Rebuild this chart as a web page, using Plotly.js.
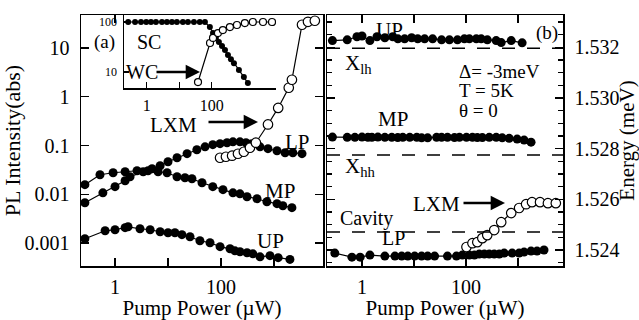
<!DOCTYPE html>
<html><head><meta charset="utf-8">
<script src="https://cdn.plot.ly/plotly-3.0.1.min.js"></script>
<style>html,body{margin:0;padding:0;background:#fff}#chart{width:639px;height:320px}</style>
</head><body><div id="chart"></div>
<script>
// ---- panel (a): PL intensity vs pump power ----
const lpPowerA = [0.27,0.59,1.0,1.55,1.92,3.4,5.0,7.1,10,14.8,22.9,35,50,70,96,130,168,228,296,383,545,770,1140,1620,2270,3380];
const lpIntA   = [0.0067,0.0107,0.0143,0.0189,0.0229,0.029,0.0333,0.0384,0.0464,0.056,0.068,0.082,0.094,0.104,0.109,0.114,0.119,0.119,0.114,0.109,0.094,0.086,0.078,0.071,0.071,0.068];
const mpPowerA = [0.27,0.52,0.92,1.55,2.6,4.2,6.5,9.6,14.8,20.9,28.3,43.8,70,109,168,228,310,478,735,1140,1470,2180];
const mpIntA   = [0.0157,0.0251,0.0276,0.029,0.0303,0.0303,0.029,0.0276,0.0229,0.0218,0.0208,0.0172,0.0143,0.0124,0.0107,0.0102,0.0089,0.0081,0.0070,0.0064,0.0058,0.0053];
const upPowerA = [0.27,0.65,1.0,1.55,1.76,2.96,4.6,7.1,10,13.5,18.3,26,40,62,96,148,183,228,310,400,545,840,1200,2000];
const upIntA   = [0.00122,0.00178,0.00187,0.00206,0.00215,0.00196,0.00187,0.0017,0.00162,0.00162,0.00148,0.00134,0.00111,0.00101,0.00084,0.00076,0.00069,0.00066,0.00063,0.0006,0.00052,0.00055,0.0005,0.00046];
const lxmPowerA = [96,124,162,209,270,352,455,770,1200,1900,2180,3380,4380,5900];
const lxmIntA   = [0.056,0.0588,0.0617,0.0677,0.0744,0.0899,0.114,0.27,0.59,1.53,2.23,30,34.5,36.2];

// ---- inset: SC / WC ----
const scPower = [0.27,0.44,0.67,0.97,1.36,1.93,2.95,4.2,6.0,8.5,13,18.6,28.5,43,62,88,110,135,167,208,257,317,392,485,690,980,1300];
const scVal   = [100,100,100,100,100,100,100,100,100,100,100,100,100,100,100,79,60,48,40,33,27.5,22,18,15,11,7.9,6.0];
const wcPower = [38,89,110,156,221,364,600,1050,1850,3800,7200];
const wcVal   = [6.3,38,48,60,69,79,87,95,100,100,100];

// ---- panel (b): energy vs pump power ----
const upPowerB = [0.27,0.52,0.80,1.0,1.42,1.94,2.75,3.9,4.9,6.6,9.0,11.8,16,22.8,33.9,48,68.5,93,116,158,196,257,380,475,740,1200];
const upEB     = [1.53227,1.5323,1.53242,1.53245,1.53227,1.53242,1.53238,1.53242,1.53234,1.53234,1.53238,1.53234,1.53234,1.53234,1.5323,1.5323,1.5323,1.53234,1.53234,1.53234,1.53234,1.5323,1.53227,1.53219,1.53227,1.53218];
const mpPowerB = [0.27,0.52,0.73,1.0,1.30,1.55,2.02,2.75,3.74,4.87,6.08,8.28,11.3,14.0,18.3,27.2,33.9,44,60,74.8,102,133,165,206,280,381,497,676,962,1310,1780];
const mpEB     = [1.52846,1.52845,1.52845,1.52846,1.52845,1.52845,1.52846,1.52845,1.52845,1.52844,1.52845,1.52845,1.52845,1.52843,1.52843,1.52845,1.52845,1.52845,1.52844,1.52845,1.52845,1.52845,1.52844,1.52844,1.52845,1.52845,1.52843,1.52841,1.52838,1.52834,1.52826];
const lpPowerB = [0.30,0.64,0.92,1.42,2.75,4.3,5.8,7.6,10.3,14,18.3,24.9,44,65.5,85,116,145,180,225,280,349,436,542,771,1050,1310,1780,2320,3160];
const lpEB     = [1.52388,1.52372,1.52372,1.5238,1.52376,1.52376,1.52376,1.52376,1.52376,1.52376,1.52376,1.52376,1.52376,1.52376,1.5238,1.5238,1.5238,1.52384,1.52384,1.52384,1.52384,1.52384,1.52388,1.52388,1.52388,1.52392,1.52396,1.52396,1.524];
const lxmPowerB = [102,133,165,206,256,349,475,740,1050,1430,1860,2650,3760,5330];
const lxmEB     = [1.52412,1.52427,1.52431,1.52447,1.52459,1.52479,1.5251,1.52546,1.52566,1.52581,1.52589,1.52589,1.52585,1.52585];

// reference levels (X_lh, X_hh, cavity)
const levelNames = ['Xlh','Xhh','Cavity'];
const levelE = [1.53197, 1.52775, 1.52471];

// tick labels
const xTickVals = [1,10,100,1000];
const xTickText = ['1','','100',''];
const yTickValsA = [0.001,0.01,0.1,1,10];
const yTickTextA = ['0.001','0.01','0.1','1','10'];
const yTickValsB = [1.524,1.526,1.528,1.530,1.532];

const FONT = '"Liberation Serif", "Times New Roman", serif';
const W = 639, H = 320;
const L = 81, R = 563, T = 15, B = 266;          // plot-area frame in pixels
const PW = R - L, PH = B - T;
const px = v => (v - L) / PW, py = v => (B - v) / PH;

function filled(x, y, xa, ya, size) {
  return {x, y, xaxis: xa, yaxis: ya, type: 'scatter', mode: 'lines+markers',
    line: {color: 'black', width: 1.2}, marker: {color: 'black', size: size || 9},
    showlegend: false, hoverinfo: 'skip'};
}
function open(x, y, xa, ya, size) {
  return {x, y, xaxis: xa, yaxis: ya, type: 'scatter', mode: 'lines+markers',
    line: {color: 'black', width: 1.2},
    marker: {color: 'white', size: size || 9.5, line: {color: 'black', width: 1.2}},
    showlegend: false, hoverinfo: 'skip'};
}

const data = [
  filled(upPowerA, upIntA, 'x', 'y'),
  filled(mpPowerA, mpIntA, 'x', 'y'),
  filled(lpPowerA, lpIntA, 'x', 'y'),
  open(lxmPowerA, lxmIntA, 'x', 'y'),
  filled(scPower, scVal, 'x3', 'y3', 6),
  open(wcPower, wcVal, 'x3', 'y3', 7),
  filled(upPowerB, upEB, 'x2', 'y2'),
  filled(mpPowerB, mpEB, 'x2', 'y2'),
  filled(lpPowerB, lpEB, 'x2', 'y2'),
  open(lxmPowerB, lxmEB, 'x2', 'y2')
];

const axBase = {showgrid: false, zeroline: false, showline: true, linecolor: 'black', linewidth: 1.5,
  ticks: 'inside', ticklen: 8, tickwidth: 1.3, tickcolor: 'black', mirror: 'ticks', automargin: false,
  tickfont: {family: FONT, size: 20, color: 'black'}};

const layout = {
  width: W, height: H, margin: {l: L, r: W - R, t: T, b: H - B, pad: 0},
  paper_bgcolor: 'white', plot_bgcolor: 'white',
  font: {family: FONT, color: 'black'},
  xaxis: Object.assign({}, axBase, {type: 'log', domain: [0, px(323)], anchor: 'y',
    range: [-0.642, 3.925], tickvals: xTickVals, ticktext: xTickText, ticklabelstandoff: 2,
    title: {text: 'Pump Power (µW)', font: {family: FONT, size: 21}, standoff: 10}}),
  yaxis: Object.assign({}, axBase, {type: 'log', domain: [0, 1], anchor: 'x',
    range: [-3.472, 1.677], tickvals: yTickValsA, ticktext: yTickTextA, ticklabelstandoff: 6,
    title: {text: 'PL Intensity(abs)', font: {family: FONT, size: 22}, standoff: 4}}),
  xaxis2: Object.assign({}, axBase, {type: 'log', domain: [px(327), 1], anchor: 'y2',
    range: [-0.673, 3.865], tickvals: xTickVals, ticktext: xTickText, ticklabelstandoff: 2,
    title: {text: 'Pump Power (µW)', font: {family: FONT, size: 21}, standoff: 10}}),
  yaxis2: Object.assign({}, axBase, {domain: [0, 1], anchor: 'x2', side: 'right',
    range: [1.52337, 1.53328], tickvals: yTickValsB, tickformat: '.3f', ticklabelstandoff: 6,
    minor: {dtick: 0.0005, tick0: 1.524, ticks: 'inside', ticklen: 5, tickcolor: 'black', tickwidth: 1.2},
    title: {text: 'Energy (meV)', font: {family: FONT, size: 21}, standoff: 6}}),
  xaxis3: Object.assign({}, axBase, {type: 'log', domain: [px(124), px(276)], anchor: 'y3',
    range: [-0.698, 3.98], tickvals: [1,10,100], ticktext: ['1','','100'], ticklen: 6,
    mirror: false, tickfont: {family: FONT, size: 16, color: 'black'}, ticklabelstandoff: 2}),
  yaxis3: Object.assign({}, axBase, {type: 'log', domain: [py(88), 1], anchor: 'x3',
    range: [0.68, 2.14], tickvals: [10,100], ticktext: ['10','100'], ticklen: 5,
    mirror: false, tickfont: {family: FONT, size: 12, color: 'black'}, ticklabelstandoff: 3}),
  shapes: levelE.map(e => ({type: 'line', xref: 'x2 domain', yref: 'y2', x0: 0, x1: 1, y0: e, y1: e,
    line: {color: 'black', width: 1.5, dash: '13px,12px'}})),
  annotations: []
};

function txt(t, x, y, size, anchor) {
  layout.annotations.push({text: t, xref: 'paper', yref: 'paper', x: px(x), y: py(y),
    xanchor: anchor || 'center', yanchor: 'middle', showarrow: false,
    font: {family: FONT, size: size || 21, color: 'black'}});
}
function arrow(x0, x1, y) {
  layout.annotations.push({text: '', xref: 'paper', yref: 'paper', x: px(x1), y: py(y),
    ax: x0 - x1, ay: 0, showarrow: true, arrowhead: 2, arrowsize: 1.1, arrowwidth: 2.6, arrowcolor: 'black'});
}
// panel (a)
txt('(a)', 104, 42, 19);
txt('SC', 149, 42, 20);
txt('WC', 142, 72, 20);
arrow(155, 200, 72);
txt('LXM', 173, 125, 21);
arrow(207, 258, 122);
txt('LP', 297, 142, 21);
txt('MP', 280, 191, 21);
txt('UP', 270, 241, 21);
// panel (b)
txt('UP', 389, 30, 21);
txt('(b)', 547, 33, 19);
txt('X<sub>lh</sub>', 343, 64, 21, 'left');
txt('Δ= -3meV', 457, 71, 19, 'left');
txt('T = 5K', 457, 91, 19, 'left');
txt('θ = 0', 457, 110, 19, 'left');
txt('MP', 393, 119, 21);
txt('X<sub>hh</sub>', 343, 167, 21, 'left');
txt('LXM', 436, 204, 21);
arrow(462, 505, 203);
txt('Cavity', 338, 218, 20, 'left');
txt('LP', 393, 238, 20);

Plotly.newPlot('chart', data, layout, {staticPlot: true, displayModeBar: false});
</script></body></html>
